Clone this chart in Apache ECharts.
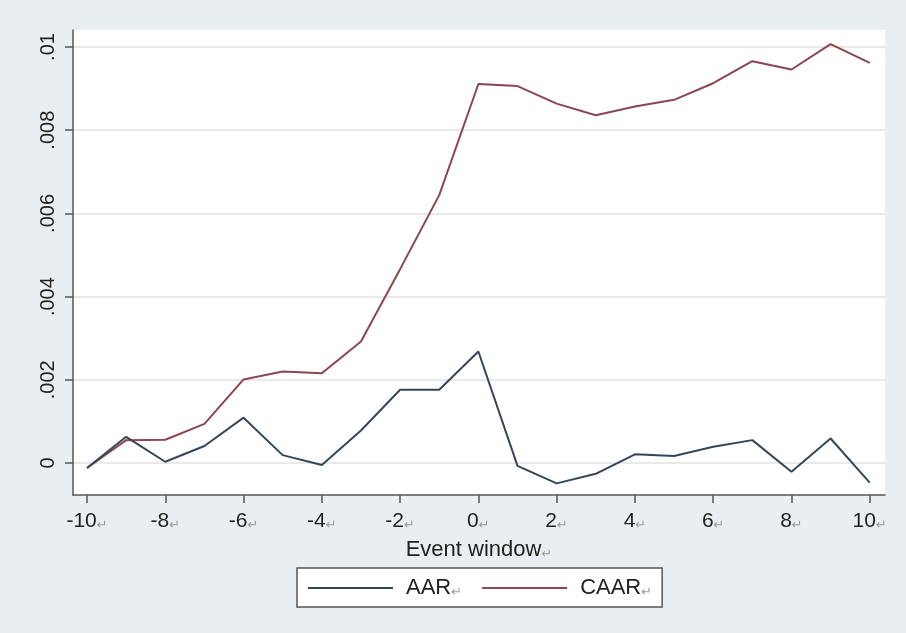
<!DOCTYPE html>
<html>
<head>
<meta charset="utf-8">
<script src="https://cdn.jsdelivr.net/npm/echarts@6/dist/echarts.min.js"></script>
<style>html,body{margin:0;padding:0;background:#e8eef1;}#c{width:906px;height:633px;}</style>
</head>
<body>
<div id="c"></div>
<script>
const eventWindow = [-10,-9,-8,-7,-6,-5,-4,-3,-2,-1,0,1,2,3,4,5,6,7,8,9,10];
const aar = [-0.00012,0.00063,0.00003,0.00041,0.00109,0.00019,-0.00005,0.00078,0.00176,0.00176,0.00268,-0.00007,-0.00049,-0.00026,0.00021,0.00017,0.00039,0.00055,-0.00021,0.00059,-0.00047];
const caar = [-0.00012,0.00055,0.00056,0.00094,0.00201,0.00220,0.00216,0.00292,0.00466,0.00644,0.00911,0.00906,0.00864,0.00836,0.00857,0.00873,0.00913,0.00966,0.00946,0.01007,0.00962];
const xTicks = [-10,-8,-6,-4,-2,0,2,4,6,8,10];
const yTicks = [0,0.002,0.004,0.006,0.008,0.01];
const yTickLabels = ['0','.002','.004','.006','.008','.01'];
const seriesNames = ['AAR','CAAR'];
const xTitle = 'Event window';

const FONT = '"Liberation Sans", Arial, sans-serif';
const chart = echarts.init(document.getElementById('c'), null, {renderer:'canvas'});
const pair = (xs, ys) => xs.map((x,i)=>[x, ys[i]]);
const retRich = {
  v:{fontFamily:FONT, fontSize:21, color:'#222'},
  t:{fontFamily:FONT, fontSize:22, color:'#222'},
  r:{fontFamily:'"DejaVu Sans", sans-serif', fontSize:13, color:'#9a9a9a', verticalAlign:'bottom'}
};
chart.setOption({
  backgroundColor:'#e8eef1',
  animation:false,
  grid:{left:73, top:30, right:21, bottom:138, show:true, backgroundColor:'#ffffff', borderWidth:0, containLabel:false},
  xAxis:{
    type:'value', min:-10.358, max:10.39,
    name: '{t|' + xTitle + '}{r|↵}', nameLocation:'middle', nameGap:44,
    nameTextStyle:{rich:retRich},
    axisLine:{show:true, onZero:false, lineStyle:{color:'#555', width:1.5}},
    axisTick:{show:true, length:8, customValues:xTicks, lineStyle:{color:'#555', width:1.5}},
    axisLabel:{show:true, customValues:xTicks, margin:16, formatter:v=>'{v|'+v+'}{r|↵}', rich:retRich},
    splitLine:{show:false}
  },
  yAxis:{
    type:'value', min:-0.000769, max:0.010409,
    axisLine:{show:true, onZero:false, lineStyle:{color:'#555', width:1.5}},
    axisTick:{show:true, length:8, customValues:yTicks, lineStyle:{color:'#555', width:1.5}},
    axisLabel:{show:true, customValues:yTicks, rotate:90, margin:15, fontFamily:FONT, fontSize:20, color:'#222',
      formatter:v=>{const i=yTicks.findIndex(t=>Math.abs(t-v)<1e-9);return i>=0?yTickLabels[i]:'';}},
    splitLine:{show:true, lineStyle:{color:'#e9e9e9', width:2}}
  },
  legend:{
    left:297, top:568, orient:'horizontal',
    backgroundColor:'#ffffff', borderColor:'#555', borderWidth:1.5, borderRadius:0,
    padding:[9,10,8,11], itemGap:20, itemWidth:85, itemHeight:2, icon:'rect',
    textStyle:{fontFamily:FONT, fontSize:22, color:'#222', padding:[0,0,0,8], rich:{
      t:{fontFamily:FONT, fontSize:22, color:'#222'},
      r:{fontFamily:'"DejaVu Sans", sans-serif', fontSize:13, color:'#9a9a9a', verticalAlign:'bottom'}}},
    formatter:n=>'{t|'+n+'}{r|↵}',
    data:seriesNames
  },
  series:[
    {name:seriesNames[0], type:'line', data:pair(eventWindow, aar), showSymbol:false, symbol:'none',
     lineStyle:{color:'#34475a', width:2}, itemStyle:{color:'#34475a'}, z:3},
    {name:seriesNames[1], type:'line', data:pair(eventWindow, caar), showSymbol:false, symbol:'none',
     lineStyle:{color:'#8c4652', width:2}, itemStyle:{color:'#8c4652'}, z:2}
  ]
});
</script>
</body>
</html>
